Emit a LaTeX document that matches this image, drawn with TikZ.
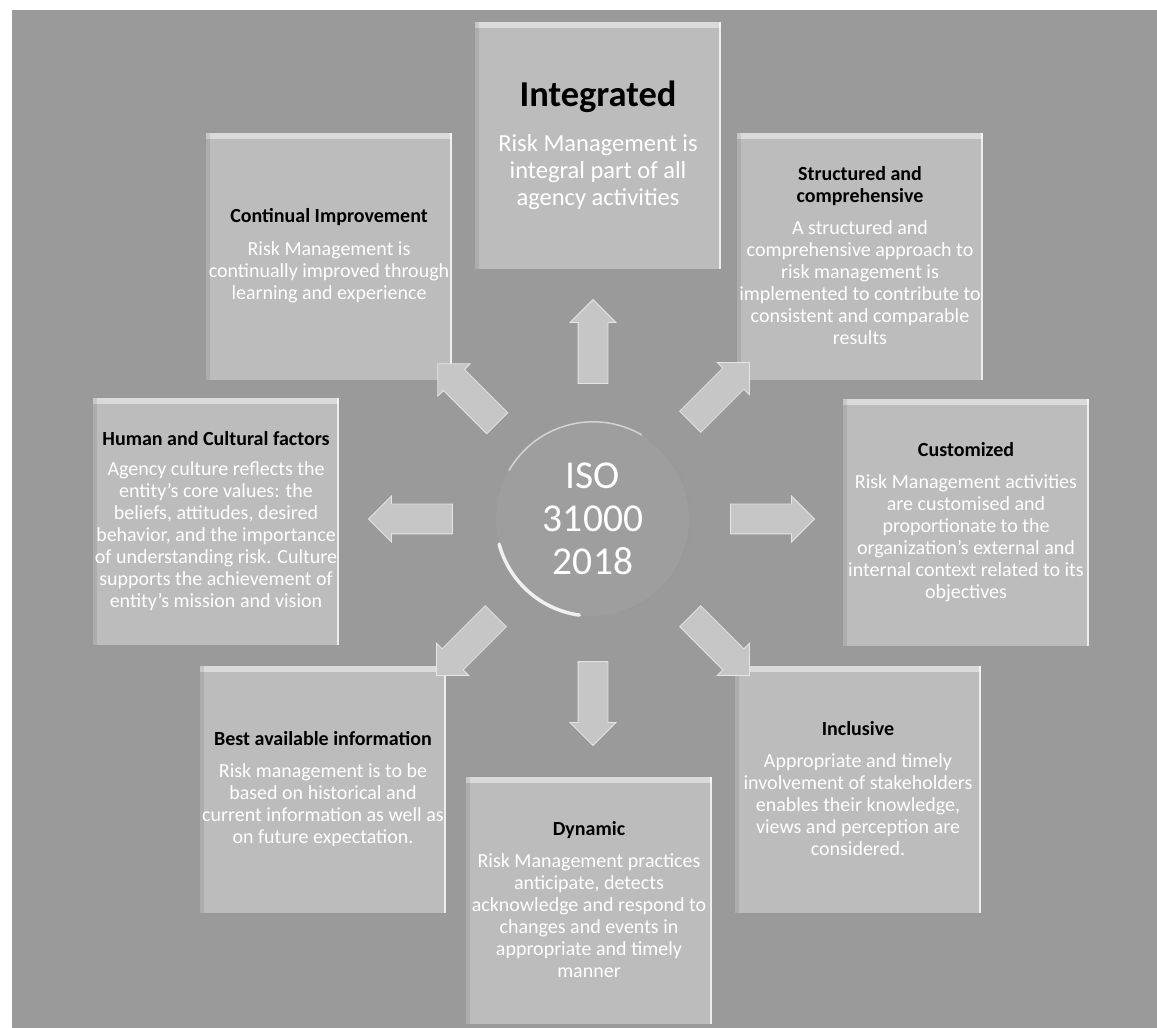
\documentclass[tikz,border=0pt]{standalone}
\usepackage{fontspec}
\setmainfont{Carlito}
\usetikzlibrary{shapes.arrows, calc}
\definecolor{pagegray}{HTML}{9A9A9A}
\definecolor{tilegray}{HTML}{BCBCBC}
\definecolor{arrowgray}{HTML}{C6C6C6}
\definecolor{discgray}{HTML}{9E9E9E}
\tikzset{
  tile/.style    = {rectangle, fill=tilegray, draw=gray!80, line width=0.8pt,
                    minimum width=247pt, minimum height=248pt, align=center,
                    text=white, font=\fontsize{20}{22}\selectfont, inner sep=2pt,
                    path picture={
                      \fill[white, opacity=0.45] (path picture bounding box.north west)
                        rectangle ([yshift=-7pt]path picture bounding box.north east);
                      \fill[white, opacity=0.75] (path picture bounding box.north east)
                        rectangle ([xshift=-3pt]path picture bounding box.south east);
                      \fill[black, opacity=0.08] (path picture bounding box.north west)
                        rectangle ([xshift=4pt]path picture bounding box.south west);
                    }},
  bigtile/.style = {tile, font=\fontsize{24.5}{27}\selectfont},
  disc/.style    = {circle, fill=discgray, minimum size=194pt, inner sep=0pt,
                    align=center, text=white, font=\fontsize{39.5}{43}\selectfont},
  pointer/.style = {single arrow, fill=arrowgray, draw=white!55!arrowgray, line width=0.8pt,
                    minimum height=84pt, inner xsep=0pt, inner ysep=14.5pt,
                    single arrow head extend=8pt},
}

\begin{document}
\begin{tikzpicture}[x=1pt, y=1pt]
\useasboundingbox (0,0) rectangle (1157,1028);
\fill[white] (0,0) rectangle (1157,1028);
\fill[pagegray] (12,0) rectangle (1157,1018);

% centre disc
\node (iso) [disc] at (593,509) {ISO\\31000\\2018};
\draw[white!85!discgray, line width=3.5pt, line cap=round]
  (iso.195) arc[start angle=195, end angle=262, radius=97pt];
\draw[white!55!discgray, line width=1.5pt, line cap=round]
  (iso.60) arc[start angle=60, end angle=150, radius=97pt];
\draw[gray!80, line width=2pt]
  (iso.-75) arc[start angle=-75, end angle=55, radius=97pt];

% eight principles round the disc
\node (integ) [bigtile] at (598,883) {{\fontsize{36.5}{40}\selectfont\textbf{\textcolor{black}{Integrated}}}\\[18pt]
  Risk Management is\\integral part of all\\agency activities};
\node (contin) [tile] at (329,772) {\textbf{\textcolor{black}{Continual Improvement}}\\[11pt]
  Risk Management is\\continually improved through\\learning and experience};
\node (struct) [tile] at (860,772) {\textbf{\textcolor{black}{Structured and}}\\\textbf{\textcolor{black}{comprehensive}}\\[10pt]
  A structured and\\comprehensive approach to\\risk management is\\implemented to contribute to\\consistent and comparable\\results};
\node (human) [tile] at (216,507) {\textbf{\textcolor{black}{Human and Cultural factors}}\\[8pt]
  Agency culture reflects the\\entity's core values: the\\beliefs, attitudes, desired\\behavior, and the importance\\of understanding risk. Culture\\supports the achievement of\\entity's mission and vision};
\node (custom) [tile] at (966,506) {\textbf{\textcolor{black}{Customized}}\\[10pt]
  Risk Management activities\\are customised and\\proportionate to the\\organization's external and\\internal context related to its\\objectives};
\node (best) [tile] at (323,239) {\textbf{\textcolor{black}{Best available information}}\\[10pt]
  Risk management is to be\\based on historical and\\current information as well as\\on future expectation.};
\node (incl) [tile] at (858,239) {\textbf{\textcolor{black}{Inclusive}}\\[10pt]
  Appropriate and timely\\involvement of stakeholders\\enables their knowledge,\\views and perception are\\considered.};
\node (dyn) [tile] at (589,128) {\textbf{\textcolor{black}{Dynamic}}\\[10pt]
  Risk Management practices\\anticipate, detects\\acknowledge and respond to\\changes and events in\\appropriate and timely\\manner};

% block arrows pointing out from the disc
\node (toInteg)  [pointer, rotate=90]   at ($(iso)+(90:170)$)   {};
\node (toStruct) [pointer, rotate=45]   at ($(iso)+(45:172)$)   {};
\node (toCustom) [pointer, rotate=0]    at ($(iso)+(0:172)$)    {};
\node (toIncl)   [pointer, rotate=-45]  at ($(iso)+(-45:172)$)  {};
\node (toDyn)    [pointer, rotate=-90]  at ($(iso)+(-90:177)$)  {};
\node (toBest)   [pointer, rotate=-135] at ($(iso)+(-135:172)$) {};
\node (toHuman)  [pointer, rotate=180]  at ($(iso)+(180:175)$)  {};
\node (toContin) [pointer, rotate=135]  at ($(iso)+(135:170)$)  {};

\end{tikzpicture}
\end{document}
